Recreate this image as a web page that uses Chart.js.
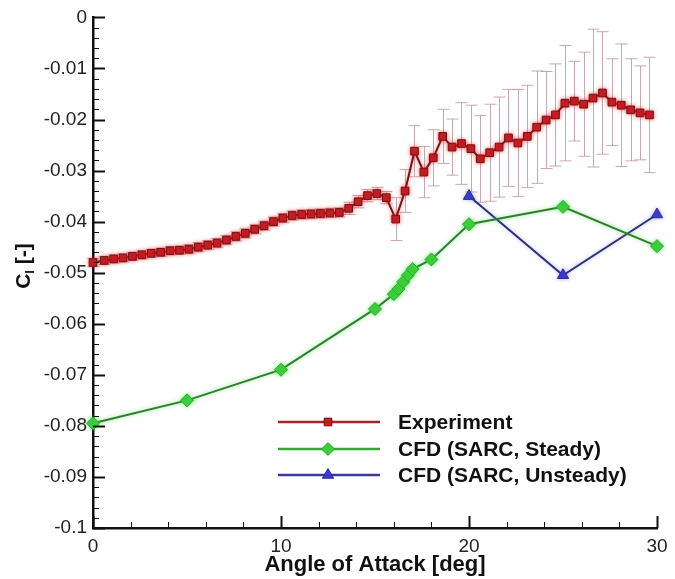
<!DOCTYPE html>
<html><head><meta charset="utf-8">
<script src="https://cdn.jsdelivr.net/npm/chart.js@4.4.1/dist/chart.umd.min.js"></script>
<style>html,body{margin:0;padding:0;background:#fff}#wrap{width:675px;height:579px;position:relative}</style>
</head><body><div id="wrap"><canvas id="c"></canvas></div>
<script>
// ---------- data ----------
const aoaExp = [0,0.6,1.1,1.6,2.1,2.6,3.1,3.6,4.1,4.6,5.1,5.6,6.1,6.6,7.1,7.6,8.1,8.6,9.1,9.6,
  10.1,10.6,11.1,11.6,12.1,12.6,13.1,13.6,14.1,14.6,15.1,15.6,16.1,16.6,17.1,17.6,18.1,18.6,19.1,19.6,
  20.1,20.6,21.1,21.6,22.1,22.6,23.1,23.6,24.1,24.6,25.1,25.6,26.1,26.6,27.1,27.6,28.1,28.6,29.1,29.6];
const clExp = [-0.0480,-0.0476,-0.0473,-0.0471,-0.0468,-0.0465,-0.0462,-0.0460,-0.0457,-0.0456,
  -0.0454,-0.0450,-0.0446,-0.0442,-0.0436,-0.0429,-0.0423,-0.0415,-0.0408,-0.0400,
  -0.0393,-0.0388,-0.0386,-0.0385,-0.0384,-0.0383,-0.0382,-0.0374,-0.0361,-0.0349,
  -0.0345,-0.0353,-0.0395,-0.0340,-0.0262,-0.0303,-0.0275,-0.0233,-0.0254,-0.0247,
  -0.0257,-0.0277,-0.0265,-0.0254,-0.0236,-0.0246,-0.0233,-0.0215,-0.0201,-0.0191,
  -0.0168,-0.0164,-0.0170,-0.0158,-0.0148,-0.0166,-0.0172,-0.0181,-0.0187,-0.0191];
const errExp = [0.0008,0.0008,0.0008,0.0008,0.0008,0.0008,0.0008,0.0008,0.0008,0.0008,
  0.0009,0.0009,0.0009,0.0009,0.0009,0.0009,0.0009,0.0009,0.0009,0.0009,
  0.0009,0.0009,0.0009,0.0009,0.0009,0.0009,0.0009,0.0012,0.0012,0.0012,
  0.0012,0.0012,0.0042,0.0042,0.0050,0.0050,0.0055,0.0053,0.0055,0.0080,
  0.0085,0.0085,0.0095,0.0098,0.0095,0.0105,0.0100,0.0110,0.0095,0.0100,
  0.0113,0.0078,0.0102,0.0135,0.0120,0.0085,0.0120,0.0100,0.0092,0.0113];
const aoaSteady = [0,5,10,15,16,16.25,16.5,16.75,17,18,20,25,30];
const clSteady = [-0.0795,-0.0750,-0.0690,-0.0571,-0.0542,-0.0532,-0.0518,-0.0505,-0.0493,-0.0474,-0.0405,-0.0371,-0.0448];
const aoaUnsteady = [20,25,30];
const clUnsteady = [-0.0350,-0.0505,-0.0386];
const seriesLabels = ['Experiment','CFD (SARC, Steady)','CFD (SARC, Unsteady)'];
const xTicks = [0,10,20,30];
const xTickLabels = ['0','10','20','30'];
const yTicks = [0,-0.01,-0.02,-0.03,-0.04,-0.05,-0.06,-0.07,-0.08,-0.09,-0.1];
const yTickLabels = ['0','-0.01','-0.02','-0.03','-0.04','-0.05','-0.06','-0.07','-0.08','-0.09','-0.1'];
const xTitle = 'Angle of Attack [deg]';
const yTitleMain = 'C', yTitleSub = 'l', yTitleRest = ' [-]';

// ---------- styling ----------
const FONT = '"Liberation Sans", Arial, Helvetica, sans-serif';
const xMinorStep = 2, yMinorStep = 0.002;

const toXY = (xs, ys) => xs.map((v, i) => ({x: v, y: ys[i]}));

const errorBars = {
  id: 'errorBars',
  beforeDatasetsDraw(chart) {
    const {ctx, scales: {x, y}} = chart;
    ctx.save();
    ctx.strokeStyle = 'rgba(185,130,140,0.7)';
    ctx.lineWidth = 1;
    const cap = 6;
    for (let i = 0; i < aoaExp.length; i++) {
      const px = Math.round(x.getPixelForValue(aoaExp[i])) + 0.5;
      const t = y.getPixelForValue(clExp[i] + errExp[i]);
      const b = y.getPixelForValue(clExp[i] - errExp[i]);
      ctx.beginPath();
      ctx.moveTo(px, t); ctx.lineTo(px, b);
      ctx.moveTo(px - cap, t); ctx.lineTo(px + cap, t);
      ctx.moveTo(px - cap, b); ctx.lineTo(px + cap, b);
      ctx.stroke();
    }
    ctx.restore();
  }
};

const glow = {
  id: 'glow',
  beforeDatasetDraw(chart, args) {
    const ctx = chart.ctx;
    ctx.save();
    const cols = ['rgba(230,40,40,0.6)', 'rgba(60,220,60,0.6)', 'rgba(80,80,220,0.4)'];
    ctx.shadowColor = cols[args.index];
    ctx.shadowBlur = 4;
  },
  afterDatasetDraw(chart) { chart.ctx.restore(); }
};

const axisDecor = {
  id: 'axisDecor',
  afterDraw(chart) {
    const {ctx, chartArea: ca, scales: {x, y}} = chart;
    ctx.save();
    ctx.strokeStyle = '#111';
    for (let v = 0; v <= 30 + 1e-9; v += xMinorStep) {
      const px = Math.round(x.getPixelForValue(v)) + 0.5;
      const major = xTicks.includes(Math.round(v));
      ctx.lineWidth = major ? 2 : 1;
      ctx.beginPath();
      ctx.moveTo(px, ca.bottom); ctx.lineTo(px, ca.bottom - (major ? 12 : 6));
      ctx.stroke();
    }
    for (let k = 0; k <= 50; k++) {
      const v = -k * yMinorStep;
      const py = Math.round(y.getPixelForValue(v)) + 0.5;
      const major = k % 5 === 0;
      ctx.lineWidth = major ? 2 : 1;
      ctx.beginPath();
      ctx.moveTo(ca.left, py); ctx.lineTo(ca.left + (major ? 12 : 6), py);
      ctx.stroke();
    }
    // y title with subscript
    ctx.fillStyle = '#111';
    ctx.translate(24, 266);
    ctx.rotate(-Math.PI / 2);
    ctx.textBaseline = 'middle';
    ctx.textAlign = 'left';
    const big = 'bold 21px ' + FONT, small = 'bold 13px ' + FONT;
    ctx.font = big; const wC = ctx.measureText(yTitleMain).width; const wR = ctx.measureText(yTitleRest).width;
    ctx.font = small; const wS = ctx.measureText(yTitleSub).width;
    let sx = -(wC + wS + wR) / 2;
    ctx.font = big; ctx.fillText(yTitleMain, sx, 0); sx += wC;
    ctx.font = small; ctx.fillText(yTitleSub, sx, 6); sx += wS;
    ctx.font = big; ctx.fillText(yTitleRest, sx, 0);
    ctx.restore();

    // legend
    ctx.save();
    const rows = [422, 449, 475];
    chart.data.datasets.forEach((ds, i) => {
      const yy = rows[i];
      ctx.strokeStyle = ds.legendLine || ds.borderColor;
      ctx.lineWidth = 2.5;
      ctx.beginPath(); ctx.moveTo(278, yy); ctx.lineTo(380, yy); ctx.stroke();
      ctx.fillStyle = ds.pointBackgroundColor;
      ctx.strokeStyle = ds.pointBorderColor;
      ctx.lineWidth = ds.pointBorderWidth;
      Chart.helpers.drawPoint(ctx, {pointStyle: ds.pointStyle, radius: ds.pointRadius, rotation: 0, borderWidth: ds.pointBorderWidth}, 328, yy);
      ctx.fillStyle = '#111';
      ctx.font = 'bold 21px ' + FONT;
      ctx.textBaseline = 'middle';
      ctx.textAlign = 'left';
      ctx.fillText(ds.label, 398, yy + 1);
    });
    ctx.restore();
  }
};

new Chart(document.getElementById('c'), {
  type: 'line',
  data: {
    datasets: [
      {
        label: seriesLabels[0],
        data: toXY(aoaExp, clExp),
        borderColor: '#7a0f14', borderWidth: 2, legendLine: '#a0262a',
        pointStyle: 'rect', pointRadius: 5.4,
        pointBackgroundColor: '#c41a22', pointBorderColor: '#701015', pointBorderWidth: 1,
        clip: false, tension: 0
      },
      {
        label: seriesLabels[1],
        data: toXY(aoaSteady, clSteady),
        borderColor: '#2f7d2f', borderWidth: 2, legendLine: '#3aa33a',
        pointStyle: 'rectRot', pointRadius: 6.5,
        pointBackgroundColor: '#3ccc3c', pointBorderColor: '#2aa82a', pointBorderWidth: 1,
        clip: false, tension: 0
      },
      {
        label: seriesLabels[2],
        data: toXY(aoaUnsteady, clUnsteady),
        borderColor: '#2f2f78', borderWidth: 2, legendLine: '#3a3a9a',
        pointStyle: 'triangle', pointRadius: 6.5,
        pointBackgroundColor: '#3a3ad0', pointBorderColor: '#2a2a9a', pointBorderWidth: 1,
        clip: false, tension: 0
      }
    ]
  },
  options: {
    responsive: true, maintainAspectRatio: false, animation: false, events: [],
    layout: {padding: {top: 14, right: 18, left: 0, bottom: 0}},
    plugins: {legend: {display: false}, tooltip: {enabled: false}},
    scales: {
      x: {
        type: 'linear', min: 0, max: 30,
        afterBuildTicks: s => { s.ticks = xTicks.map(v => ({value: v})); },
        afterFit: s => { s.height = 51; },
        grid: {display: false, drawTicks: false},
        border: {display: true, color: '#111', width: 2.5},
        ticks: {padding: 7, color: '#222', font: {family: FONT, size: 19},
          callback: (v, i) => xTickLabels[i]},
        title: {display: true, text: xTitle, color: '#111', padding: {top: 0, bottom: 1},
          font: {family: FONT, size: 22, weight: 'bold'}}
      },
      y: {
        type: 'linear', min: -0.1, max: 0,
        afterBuildTicks: s => { s.ticks = yTicks.map(v => ({value: v})); },
        afterFit: s => { s.width = 93; },
        grid: {display: false, drawTicks: false},
        border: {display: true, color: '#111', width: 2.5},
        ticks: {padding: 6, color: '#222', font: {family: FONT, size: 19},
          callback: function(v) { const i = yTicks.findIndex(t => Math.abs(t - v) < 1e-9); return yTickLabels[i]; }}
      }
    }
  },
  plugins: [errorBars, glow, axisDecor]
});
</script></body></html>
